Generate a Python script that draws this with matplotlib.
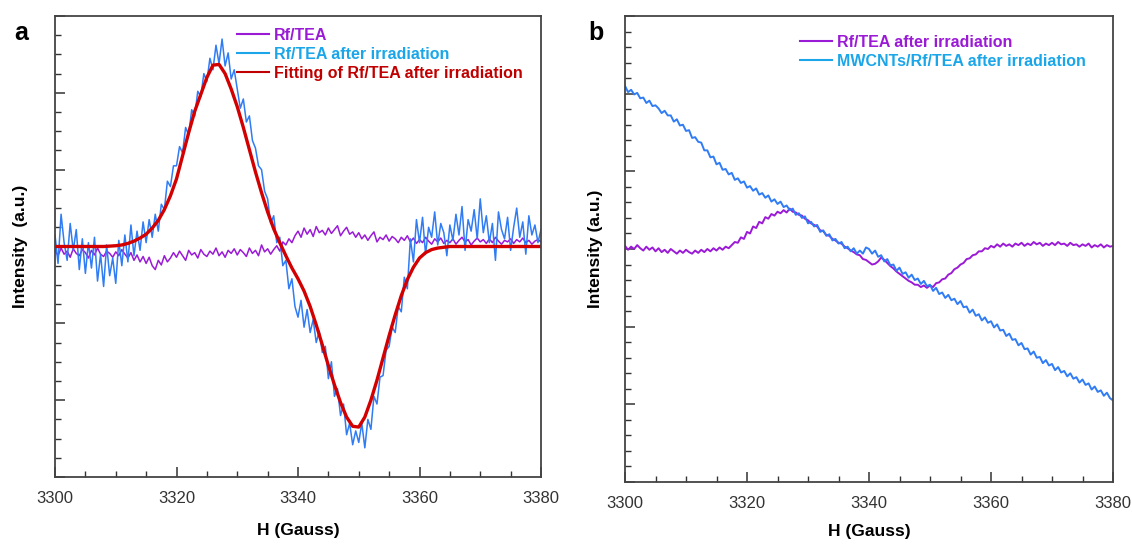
import numpy as np
import matplotlib as mpl
mpl.use('agg')
import matplotlib.pyplot as plt
from matplotlib.lines import Line2D
from matplotlib.ticker import MultipleLocator, NullFormatter

plt.rcParams['font.family'] = ['Liberation Sans', 'DejaVu Sans']

# field axis (Gauss), 0.5 G sampling for the spectra, 1 G for the fit
field = np.linspace(3300, 3380, 161)
field_fit = np.linspace(3300, 3380, 81)

# panel a: Rf/TEA after irradiation (noisy spectrum)
a_irrad = [
    0.15, -0.22, 0.42, 0.05, -0.18, 0.30, -0.05, 0.22, -0.30, 0.10,
    -0.35, 0.05, -0.28, 0.12, -0.45, -0.10, -0.52, 0.02, -0.38, -0.15,
    -0.48, 0.08, -0.25, 0.15, -0.20, 0.28, -0.12, 0.20, -0.05, 0.32,
    0.05, 0.35, 0.12, 0.42, 0.20, 0.55, 0.48, 0.85, 0.78, 1.05,
    1.05, 1.30, 1.22, 1.55, 1.45, 1.78, 1.70, 2.02, 1.95, 2.25,
    2.15, 2.45, 2.30, 2.62, 2.38, 2.70, 2.35, 2.52, 2.18, 2.30,
    2.05, 1.80, 1.92, 1.62, 1.70, 1.38, 1.28, 1.05, 1.00, 0.72,
    0.62, 0.30, 0.40, 0.05, 0.12, -0.25, -0.18, -0.55, -0.42, -0.78,
    -0.92, -0.70, -1.05, -0.82, -1.12, -0.95, -1.25, -1.10, -1.38, -1.30,
    -1.72, -1.50, -1.95, -1.85, -2.20, -2.05, -2.45, -2.30, -2.58, -2.40,
    -2.55, -2.30, -2.62, -2.25, -2.38, -1.95, -2.05, -1.70, -1.68, -1.35,
    -1.30, -1.05, -1.12, -0.78, -0.85, -0.40, -0.55, 0.10, -0.20, 0.35,
    0.05, 0.38, -0.10, 0.25, 0.12, 0.45, 0.02, 0.30, 0.18, -0.12,
    0.28, 0.08, 0.42, 0.15, 0.52, -0.05, 0.35, 0.20, 0.48, 0.10,
    0.62, 0.18, 0.40, 0.05, 0.30, -0.18, 0.45, 0.22, 0.10, 0.38,
    -0.05, 0.25, 0.50, 0.12, 0.32, -0.10, 0.40, 0.15, 0.28, 0.05,
    0.22,
]

# panel a: Rf/TEA (before irradiation)
a_plain = [
    -0.05, -0.12, -0.02, -0.10, -0.06, -0.14, -0.03, -0.09, -0.12, -0.04,
    -0.08, -0.15, -0.05, -0.11, -0.02, -0.10, -0.13, -0.06, -0.09, -0.14,
    -0.07, -0.12, -0.04, -0.10, -0.15, -0.08, -0.18, -0.11, -0.20, -0.13,
    -0.22, -0.14, -0.25, -0.30, -0.18, -0.24, -0.12, -0.20, -0.15, -0.08,
    -0.14, -0.06, -0.12, -0.18, -0.05, -0.11, -0.08, -0.15, -0.04, -0.10,
    -0.13, -0.06, -0.10, -0.02, -0.12, -0.07, -0.14, -0.05, -0.09, -0.03,
    -0.11, -0.04, -0.08, -0.13, -0.02, -0.09, -0.05, -0.12, 0.02, -0.07,
    -0.03, -0.10, -0.04, 0.01, -0.06, 0.06, 0.02, 0.10, 0.05, 0.14,
    0.20, 0.12, 0.24, 0.16, 0.22, 0.13, 0.26, 0.18, 0.21, 0.15,
    0.24, 0.17, 0.22, 0.27, 0.14, 0.20, 0.25, 0.16, 0.19, 0.12,
    0.18, 0.10, 0.15, 0.08, 0.14, 0.19, 0.06, 0.12, 0.09, 0.15,
    0.07, 0.13, 0.10, 0.05, 0.12, 0.08, 0.14, 0.06, 0.11, 0.04,
    0.09, 0.05, 0.12, 0.07, 0.03, 0.10, 0.06, 0.11, 0.04, 0.08,
    0.05, 0.10, 0.03, 0.08, 0.12, 0.06, 0.09, 0.02, 0.07, 0.11,
    0.06, 0.09, 0.04, 0.10, 0.05, 0.12, 0.07, 0.03, 0.08, 0.06,
    0.10, 0.04, 0.09, 0.06, 0.11, 0.05, 0.08, 0.03, 0.07, 0.09,
    0.06,
]

# panel a: fitting curve (1 G steps)
a_fit = [
    0, 0, 0, 0, 0, 0, 0, 0, 0, 0.005,
    0.01, 0.02, 0.04, 0.07, 0.11, 0.16, 0.24, 0.34, 0.48, 0.66,
    0.88, 1.18, 1.48, 1.76, 1.98, 2.20, 2.36, 2.37, 2.25, 2.05,
    1.82, 1.55, 1.26, 0.97, 0.70, 0.45, 0.23, 0.05, -0.12, -0.28,
    -0.42, -0.58, -0.78, -1.02, -1.28, -1.55, -1.80, -2.03, -2.22, -2.34,
    -2.35, -2.22, -2.00, -1.74, -1.45, -1.16, -0.89, -0.64, -0.43, -0.27,
    -0.15, -0.08, -0.04, -0.02, -0.01, 0, 0, 0, 0, 0,
    0, 0, 0, 0, 0, 0, 0, 0, 0, 0,
    0,
]

# panel b: MWCNTs/Rf/TEA after irradiation
b_mwcnt = [
    2.10, 2.02, 2.05, 1.99, 2.01, 1.94, 1.95, 1.88, 1.91, 1.84,
    1.85, 1.81, 1.75, 1.78, 1.72, 1.72, 1.64, 1.67, 1.59, 1.60,
    1.52, 1.53, 1.43, 1.44, 1.38, 1.37, 1.27, 1.27, 1.18, 1.19,
    1.09, 1.11, 1.02, 1.03, 0.96, 0.98, 0.89, 0.91, 0.85, 0.87,
    0.79, 0.81, 0.75, 0.78, 0.70, 0.72, 0.66, 0.69, 0.61, 0.64,
    0.58, 0.61, 0.54, 0.56, 0.50, 0.52, 0.44, 0.46, 0.40, 0.42,
    0.33, 0.35, 0.29, 0.31, 0.22, 0.24, 0.17, 0.19, 0.11, 0.13,
    0.07, 0.09, 0.01, 0.03, -0.03, 0.01, -0.06, -0.02, -0.06, 0.02,
    0.00, -0.06, -0.02, -0.10, -0.08, -0.16, -0.13, -0.21, -0.20, -0.28,
    -0.24, -0.32, -0.30, -0.37, -0.33, -0.40, -0.38, -0.45, -0.41, -0.48,
    -0.46, -0.54, -0.50, -0.58, -0.56, -0.63, -0.59, -0.66, -0.64, -0.71,
    -0.67, -0.75, -0.74, -0.82, -0.78, -0.86, -0.84, -0.92, -0.88, -0.95,
    -0.93, -1.01, -0.97, -1.05, -1.04, -1.12, -1.09, -1.17, -1.16, -1.24,
    -1.21, -1.29, -1.28, -1.36, -1.32, -1.40, -1.39, -1.47, -1.43, -1.50,
    -1.48, -1.56, -1.52, -1.59, -1.57, -1.64, -1.60, -1.67, -1.65, -1.72,
    -1.68, -1.75, -1.73, -1.81, -1.77, -1.84, -1.82, -1.89, -1.85, -1.92,
    -1.95,
]

# panel b: Rf/TEA after irradiation
b_rf = [
    0.04, -0.01, 0.03, 0.00, 0.05, 0.01, -0.02, 0.03, -0.01, 0.02,
    -0.03, 0.01, -0.04, -0.01, -0.05, 0.00, -0.03, -0.06, -0.02, -0.05,
    -0.01, -0.04, -0.06, -0.02, -0.05, -0.01, -0.04, 0.00, -0.03, 0.01,
    -0.02, 0.02, -0.01, 0.03, 0.01, 0.05, 0.09, 0.08, 0.15, 0.13,
    0.22, 0.20, 0.29, 0.27, 0.35, 0.33, 0.41, 0.39, 0.45, 0.43,
    0.48, 0.46, 0.50, 0.47, 0.52, 0.48, 0.47, 0.44, 0.43, 0.39,
    0.37, 0.33, 0.31, 0.29, 0.24, 0.23, 0.18, 0.17, 0.13, 0.11,
    0.08, 0.07, 0.03, 0.01, -0.02, -0.04, -0.07, -0.08, -0.13, -0.14,
    -0.17, -0.20, -0.19, -0.16, -0.11, -0.14, -0.18, -0.22, -0.25, -0.29,
    -0.32, -0.35, -0.38, -0.41, -0.43, -0.46, -0.46, -0.49, -0.47, -0.50,
    -0.47, -0.49, -0.44, -0.43, -0.39, -0.38, -0.33, -0.31, -0.26, -0.24,
    -0.20, -0.18, -0.13, -0.12, -0.08, -0.07, -0.03, -0.03, 0.01, 0.00,
    0.04, 0.02, 0.06, 0.03, 0.07, 0.04, 0.06, 0.03, 0.07, 0.05,
    0.08, 0.04, 0.07, 0.05, 0.09, 0.06, 0.08, 0.04, 0.07, 0.05,
    0.08, 0.05, 0.09, 0.06, 0.07, 0.04, 0.08, 0.05, 0.06, 0.03,
    0.06, 0.04, 0.07, 0.02, 0.05, 0.03, 0.06, 0.02, 0.05, 0.03,
    0.04,
]

labels_a = ["Rf/TEA", "Rf/TEA after irradiation", "Fitting of Rf/TEA after irradiation"]
labels_b = ["Rf/TEA after irradiation", "MWCNTs/Rf/TEA after irradiation"]

PURPLE = '#9a1ad6'
BLUE = '#2f7cf5'
LIGHTBLUE = '#1aa6e8'
RED = '#d20000'
DARKRED = '#c00000'


def style_axes(ax, yminor):
    ax.set_xlim(3300, 3380)
    ax.set_ylim(-3, 3)
    ax.xaxis.set_major_locator(MultipleLocator(20))
    ax.xaxis.set_minor_locator(MultipleLocator(5))
    ax.yaxis.set_major_locator(MultipleLocator(1))
    ax.yaxis.set_minor_locator(MultipleLocator(yminor))
    ax.yaxis.set_major_formatter(NullFormatter())
    ax.tick_params(which='major', direction='in', length=7, width=1.1, color='#333333',
                   labelsize=12, labelcolor='#333333', pad=10)
    ax.tick_params(which='minor', direction='in', length=4, width=1.0, color='#333333')
    for s in ax.spines.values():
        s.set_color('#444444')
        s.set_linewidth(1.3)
    ax.set_xlabel('H (Gauss)', fontsize=12.5, fontweight='bold')


fig = plt.figure(figsize=(11.32, 5.45), dpi=100)
ax1 = fig.add_axes([55 / 1132, 1 - 477 / 545, 486 / 1132, 461 / 545])
ax2 = fig.add_axes([625 / 1132, 1 - 482 / 545, 488 / 1132, 466 / 545])

# panel a
ax1.plot(field, a_plain, color=PURPLE, lw=1.1)
ax1.plot(field, a_irrad, color=BLUE, lw=1.1)
ax1.plot(field_fit, a_fit, color=RED, lw=2.4)
style_axes(ax1, 0.25)
ax1.set_ylabel('Intensity  (a.u.)', fontsize=12.5, fontweight='bold')
ax1.yaxis.set_label_coords(-0.056, 0.5)
ax1.xaxis.set_label_coords(0.5, -0.1)

handles_a = [Line2D([], [], color=c, lw=1.5) for c in (PURPLE, LIGHTBLUE, DARKRED)]
ax1.legend(handles_a, labels_a, loc='upper left', bbox_to_anchor=(0.345, 1.005),
           frameon=False, handlelength=2.0, handletextpad=0.3, labelspacing=0.25,
           prop={'weight': 'bold', 'size': 11.5},
           labelcolor=[PURPLE, LIGHTBLUE, DARKRED])

# panel b
ax2.plot(field, b_rf, color=PURPLE, lw=1.4)
ax2.plot(field, b_mwcnt, color=BLUE, lw=1.4)
style_axes(ax2, 0.2)
ax2.set_ylabel('Intensity (a.u.)', fontsize=12.5, fontweight='bold')
ax2.yaxis.set_label_coords(-0.046, 0.5)
ax2.xaxis.set_label_coords(0.5, -0.09)

handles_b = [Line2D([], [], color=c, lw=1.5) for c in (PURPLE, LIGHTBLUE)]
ax2.legend(handles_b, labels_b, loc='upper left', bbox_to_anchor=(0.33, 0.99),
           frameon=False, handlelength=2.0, handletextpad=0.3, labelspacing=0.25,
           prop={'weight': 'bold', 'size': 11.5},
           labelcolor=[PURPLE, LIGHTBLUE])

fig.text(14 / 1132, 1 - 33 / 545, 'a', fontsize=18, fontweight='bold', va='center')
fig.text(588 / 1132, 1 - 33 / 545, 'b', fontsize=18, fontweight='bold', va='center')

fig.savefig('out.png', dpi=100)
